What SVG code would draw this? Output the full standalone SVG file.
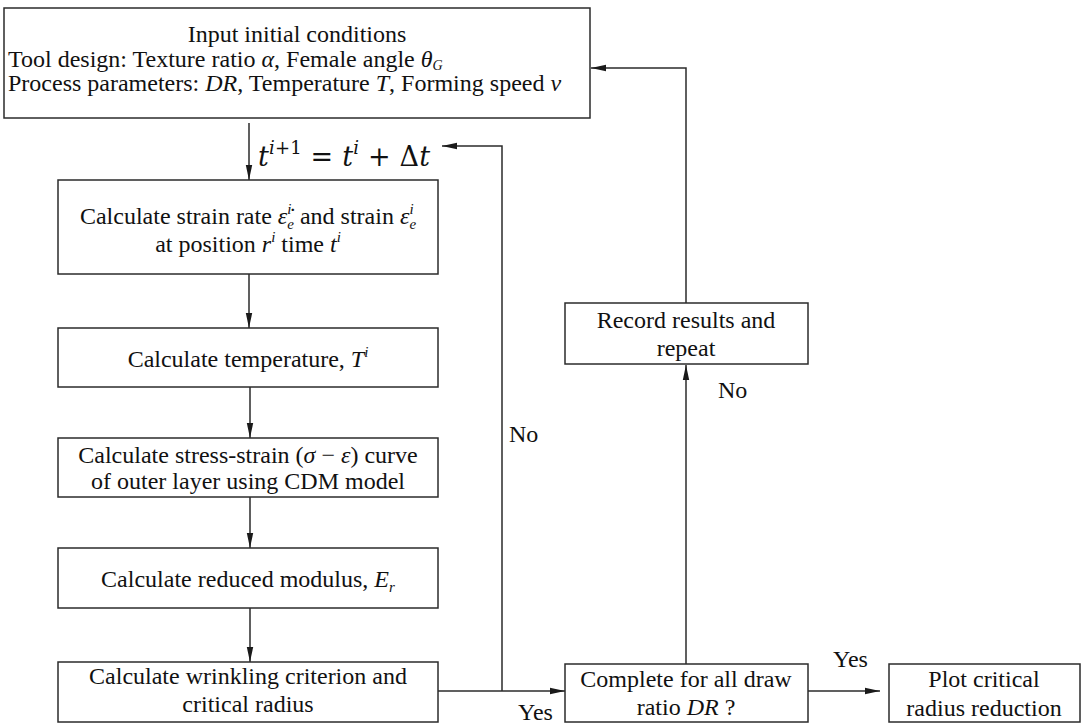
<svg xmlns="http://www.w3.org/2000/svg" width="1084" height="725" viewBox="0 0 1084 725">
<style>
.box{fill:#fff;stroke:#2b2b2b;stroke-width:1.5}
.ln{fill:none;stroke:#2b2b2b;stroke-width:1.5}
.t{font-family:"Liberation Serif","Times New Roman",serif;font-size:24px;fill:#111}
.c{text-anchor:middle}
.m{font-style:italic}
.s{font-size:15px}
.eq{font-family:"DejaVu Serif","Liberation Serif",serif;font-size:27px;fill:#111}
</style>
<defs>
<marker id="arr" markerUnits="userSpaceOnUse" markerWidth="16" markerHeight="8" refX="15" refY="4" orient="auto">
<path d="M0,0.8 L15,4 L0,7.2 z" fill="#1a1a1a"/>
</marker>
</defs>
<rect width="1084" height="725" fill="#fff"/>

<g id="connectors">
<path class="ln" d="M249,123 V180" marker-end="url(#arr)"/>
<path class="ln" d="M249,274 V328" marker-end="url(#arr)"/>
<path class="ln" d="M250,387 V438" marker-end="url(#arr)"/>
<path class="ln" d="M250,497 V548" marker-end="url(#arr)"/>
<path class="ln" d="M250,608 V662" marker-end="url(#arr)"/>
<path class="ln" d="M438,691 H565" marker-end="url(#arr)"/>
<path class="ln" d="M502,691 V146 H442" marker-end="url(#arr)"/>
<path class="ln" d="M686,664 V365" marker-end="url(#arr)"/>
<path class="ln" d="M686,303 V68 H591" marker-end="url(#arr)"/>
<path class="ln" d="M808,691 H880" marker-end="url(#arr)"/>
<text class="eq" x="258" y="166" textLength="172" lengthAdjust="spacing"><tspan class="m">t</tspan><tspan font-size="18" dy="-12"><tspan class="m">i</tspan>+1</tspan><tspan dy="12"> = </tspan><tspan class="m">t</tspan><tspan font-size="18" dy="-12" class="m">i</tspan><tspan dy="12"> + Δ</tspan><tspan class="m">t</tspan></text>
<text class="t" x="509" y="442">No</text>
<text class="t" x="718" y="398">No</text>
<text class="t" x="518" y="720">Yes</text>
<text class="t" x="833" y="667">Yes</text>
</g>

<g id="input">
<rect class="box" x="4" y="8" width="586" height="110"/>
<text class="t c" x="297" y="42">Input initial conditions</text>
<text class="t" x="8" y="67">Tool design: Texture ratio <tspan class="m">α</tspan>, Female angle <tspan class="m">θ</tspan><tspan class="m" font-size="14" dy="3">G</tspan></text>
<text class="t" x="8" y="91">Process parameters: <tspan class="m">DR</tspan>, Temperature <tspan class="m">T</tspan>, Forming speed <tspan class="m">v</tspan></text>
</g>

<g id="strain">
<rect class="box" x="58" y="180" width="380" height="94"/>
<text class="t c" x="248" y="224">Calculate strain rate <tspan class="m">ε̇</tspan><tspan class="s m" dy="-10">i</tspan><tspan class="s m" dx="-4.2" dy="15">e</tspan><tspan dy="-5"> and strain </tspan><tspan class="m">ε</tspan><tspan class="s m" dy="-10">i</tspan><tspan class="s m" dx="-4.2" dy="15">e</tspan></text>
<text class="t c" x="248" y="252">at position <tspan class="m">r</tspan><tspan class="s m" dy="-10">i</tspan><tspan dy="10"> time </tspan><tspan class="m">t</tspan><tspan class="s m" dy="-10">i</tspan></text>
</g>

<g id="temperature">
<rect class="box" x="58" y="328" width="380" height="59"/>
<text class="t c" x="248" y="367">Calculate temperature, <tspan class="m">T</tspan><tspan class="s m" dy="-10">i</tspan></text>
</g>

<g id="stress">
<rect class="box" x="58" y="438" width="380" height="59"/>
<text class="t c" x="248" y="463">Calculate stress-strain (<tspan class="m">σ</tspan> − <tspan class="m">ε</tspan>) curve</text>
<text class="t c" x="248" y="489">of outer layer using CDM model</text>
</g>

<g id="modulus">
<rect class="box" x="58" y="548" width="380" height="60"/>
<text class="t c" x="248" y="587">Calculate reduced modulus, <tspan class="m">E</tspan><tspan class="s m" dy="5">r</tspan></text>
</g>

<g id="wrinkling">
<rect class="box" x="58" y="662" width="380" height="60"/>
<text class="t c" x="248" y="684">Calculate wrinkling criterion and</text>
<text class="t c" x="248" y="712">critical radius</text>
</g>

<g id="record">
<rect class="box" x="565" y="303" width="243" height="61"/>
<text class="t c" x="686" y="328">Record results and</text>
<text class="t c" x="686" y="356">repeat</text>
</g>

<g id="complete">
<rect class="box" x="565" y="664" width="243" height="58"/>
<text class="t c" x="686" y="687">Complete for all draw</text>
<text class="t c" x="686" y="715">ratio <tspan class="m">DR</tspan> ?</text>
</g>

<g id="plot">
<rect class="box" x="889" y="664" width="191" height="58"/>
<text class="t c" x="984" y="687">Plot critical</text>
<text class="t c" x="984" y="716">radius reduction</text>
</g>
</svg>
